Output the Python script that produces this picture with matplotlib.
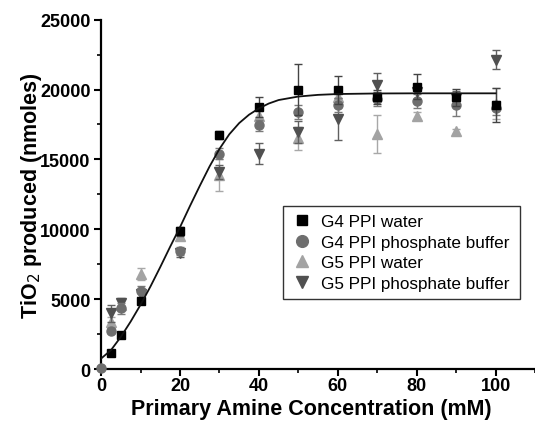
import matplotlib
matplotlib.use("Agg")
import matplotlib.pyplot as plt
from matplotlib.ticker import MultipleLocator

plt.rcParams['font.family'] = ['Liberation Sans', 'DejaVu Sans']

# concentrations (mM)
conc = [0, 2.5, 5, 10, 20, 30, 40, 50, 60, 70, 80, 90, 100]
conc_no0 = conc[1:]

# G4 PPI water
g4w = [1150, 2450, 4850, 9850, 16750, 18750, 20000, 20000, 19450, 20200, 19450, 18900]
g4w_err = [150, 150, 200, 300, 300, 700, 1850, 1000, 500, 900, 600, 1200]

# G4 PPI phosphate buffer
g4p = [100, 2750, 4350, 5550, 8450, 15400, 17450, 18400, 18900, 19300, 19150, 18900, 18700]
g4p_err = [100, 200, 400, 400, 300, 400, 400, 500, 500, 500, 500, 800, 500]

# G5 PPI water
g5w = [3400, 4550, 6800, 9500, 13900, 18100, 16500, 19500, 16800, 18100, 17000, 19000]
g5w_err = [300, 400, 450, 300, 1150, 400, 850, 500, 1350, 300, 200, 1100]

# G5 PPI phosphate buffer
g5p = [4000, 4700, 5400, 8300, 14100, 15400, 16950, 17900, 20350, 19800, 19400, 22150]
g5p_err = [600, 400, 300, 300, 500, 750, 800, 1500, 850, 500, 500, 700]

# fitted curve
fit_x = [0, 2.5, 5, 7.5, 10, 12.5, 15, 17.5, 20, 22.5, 25, 27.5, 30, 32.5, 35,
         37.5, 40, 42.5, 45, 50, 55, 60, 70, 80, 90, 100]
fit_y = [750, 1350, 2300, 3400, 4600, 5900, 7300, 8750, 10150, 11650, 13100,
         14500, 15750, 16800, 17600, 18200, 18650, 19000, 19250, 19500, 19620,
         19680, 19720, 19730, 19730, 19730]

fig = plt.figure(figsize=(5.35, 4.31), dpi=100)
ax = fig.add_axes([0.189, 0.1415, 0.811, 0.8105])

series = []
series.append(ax.errorbar(conc_no0, g5w, yerr=g5w_err, fmt='^', color='#a3a3a3', ecolor='#a8a8a8',
                          ms=7, capsize=3, elinewidth=1, zorder=2))
series.append(ax.errorbar(conc_no0, g5p, yerr=g5p_err, fmt='v', color='#505050', ecolor='#606060',
                          ms=7, capsize=3, elinewidth=1, zorder=3))
series.append(ax.errorbar(conc, g4p, yerr=g4p_err, fmt='o', color='#6e6e6e', ecolor='#7a7a7a',
                          ms=6.5, capsize=3, elinewidth=1, zorder=4, clip_on=False))
series.append(ax.errorbar(conc_no0, g4w, yerr=g4w_err, fmt='s', color='black', ecolor='#444444',
                          ms=6, capsize=3, elinewidth=1, zorder=5))
ax.plot(fit_x, fit_y, color='#111111', lw=1.3, zorder=6)

ax.set_xlim(0, 110)
ax.set_ylim(0, 25000)
ax.xaxis.set_major_locator(MultipleLocator(20))
ax.xaxis.set_minor_locator(MultipleLocator(10))
ax.yaxis.set_major_locator(MultipleLocator(5000))
ax.yaxis.set_minor_locator(MultipleLocator(2500))

for s in ['top', 'right']:
    ax.spines[s].set_visible(False)
for s in ['left', 'bottom']:
    ax.spines[s].set_linewidth(1.6)
ax.tick_params(which='major', direction='out', length=5, width=1.5, labelsize=13, pad=2.5)
ax.tick_params(axis='x', which='major', pad=1)
ax.tick_params(which='minor', direction='out', length=3, width=1.2)
for lab in ax.get_xticklabels() + ax.get_yticklabels():
    lab.set_fontweight('bold')

ax.set_xlabel('Primary Amine Concentration (mM)', fontsize=15.5, fontweight='bold')
ax.set_ylabel('TiO$_2$ produced (nmoles)', fontsize=15.5, fontweight='bold')
ax.xaxis.set_label_coords(0.485, -0.082)
ax.yaxis.set_label_coords(-0.132, 0.5)

labels = ['G5 PPI water', 'G5 PPI phosphate buffer', 'G4 PPI phosphate buffer', 'G4 PPI water']
order = [3, 2, 0, 1]
leg = ax.legend([series[i][0] for i in order], [labels[i] for i in order],
                loc='lower left', bbox_to_anchor=(0.40, 0.175, 0.584, 0.274),
                mode='expand', fontsize=12.3, frameon=True, fancybox=False,
                edgecolor='black', handletextpad=0.5, borderpad=0.5,
                labelspacing=0.32, handlelength=1.2, markerscale=1.3)
leg.get_frame().set_linewidth(1.0)

fig.savefig('out.png', dpi=100)
